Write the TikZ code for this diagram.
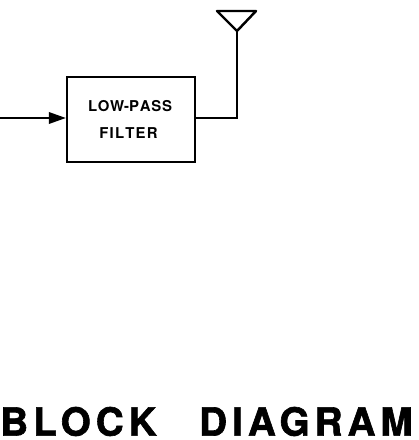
\documentclass[tikz,border=0pt]{standalone}
\usepackage{fontspec}
\setmainfont{TeX Gyre Heros}
\newfontfamily\titlefont[LetterSpace=13,FakeBold=1.6]{TeX Gyre Heros Bold}
\usetikzlibrary{arrows.meta}
\tikzset{
    filterbox/.style={draw, line width=1.3pt, minimum width=2.56cm, minimum height=1.7cm, inner sep=0pt},
    wire/.style={line width=1.1pt},
    boxtext/.style={inner sep=0pt, font=\bfseries\fontsize{8.5}{8.5}\selectfont}
}
\begin{document}
\begin{tikzpicture}
    \useasboundingbox (0,0) rectangle (8.36,8.8);
    \coordinate (IN) at (0,6.44);
    \coordinate (T) at (4.74,6.44);
    \coordinate (F) at (4.74,8.18);
    \coordinate (L) at (4.34,8.58);
    \coordinate (R) at (5.12,8.58);

    \node[filterbox] (filter) at (2.62,6.41) {};
    \node[boxtext] (low) at (2.6,6.68) {L\kern.4ptO\kern.4ptW-P\kern.4ptA\kern.4ptS\kern.4ptS};
    \node[boxtext] (name) at (2.57,6.14) {F\kern.7ptI\kern.7ptL\kern.7ptT\kern.7ptE\kern.7ptR};

    % input and output
    \draw[wire, -{Triangle[length=3.4mm, width=2.3mm]}] (IN) -- (IN -| filter.west);
    \draw[wire] (T -| filter.east) -- (T) -- (F);
    \draw[line width=1.4pt, line join=round] (L) -- (R) -- (F) -- cycle;

    \node[inner sep=0pt, font=\titlefont\fontsize{22}{22}\selectfont] (title) at (4.13,0.37) {BLOCK\hspace{1.1em}DIAGRAM};
\end{tikzpicture}
\end{document}
